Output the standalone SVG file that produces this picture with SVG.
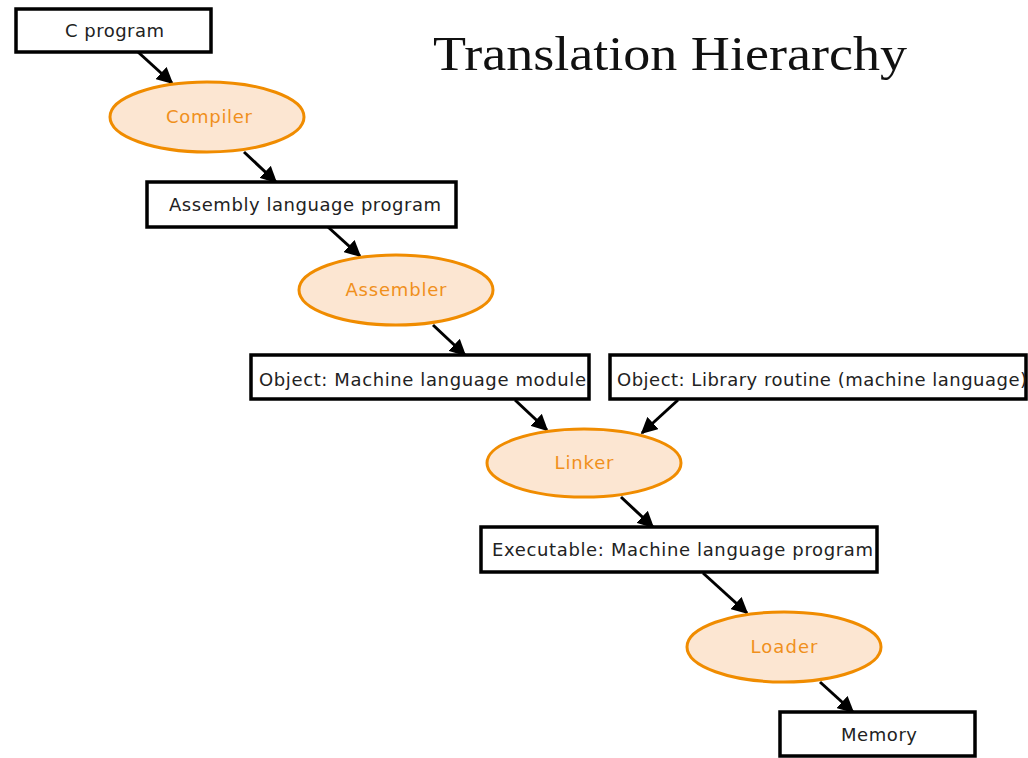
<svg xmlns="http://www.w3.org/2000/svg" width="1028" height="758" viewBox="0 0 1028 758">
<style>
.box{fill:#fff;stroke:#000;stroke-width:3.5}
.ell{fill:#fce6d2;stroke:#f08c00;stroke-width:3}
.bt{font-family:"DejaVu Sans","Liberation Sans",sans-serif;font-size:18px;fill:#222}
.et{font-family:"DejaVu Sans","Liberation Sans",sans-serif;font-size:18px;fill:#f0901c;text-anchor:middle}
.title{font-family:"Liberation Serif",serif;font-size:48px;fill:#111}
.arr{stroke:#000;stroke-width:3;fill:none;marker-end:url(#ah)}
</style>
<defs>
<marker id="ah" viewBox="0 0 10 10" refX="9" refY="5" markerWidth="5.5" markerHeight="5.5" orient="auto" markerUnits="strokeWidth">
<path d="M0,0 L10,5 L0,10 z" fill="#000"/>
</marker>
</defs>
<rect width="1028" height="758" fill="#fff"/>
<text class="title" x="433" y="70" textLength="474" lengthAdjust="spacingAndGlyphs">Translation Hierarchy</text>
<g id="connectors">
<line class="arr" x1="138" y1="52" x2="172" y2="83"/>
<line class="arr" x1="244" y1="152" x2="276" y2="182"/>
<line class="arr" x1="328" y1="227" x2="360" y2="256"/>
<line class="arr" x1="433" y1="325" x2="465" y2="355"/>
<line class="arr" x1="515" y1="400" x2="547" y2="430"/>
<line class="arr" x1="678" y1="400" x2="642" y2="433"/>
<line class="arr" x1="621" y1="497" x2="653" y2="527"/>
<line class="arr" x1="703" y1="573" x2="747" y2="613"/>
<line class="arr" x1="820" y1="682" x2="853" y2="712"/>
</g>
<g id="c-program">
<rect class="box" x="16" y="9" width="195" height="43"/>
<text class="bt" x="65" y="37" textLength="99" lengthAdjust="spacing">C program</text>
</g>
<g id="compiler">
<ellipse class="ell" cx="207" cy="117" rx="97" ry="35"/>
<text class="et" x="209" y="123" textLength="86" lengthAdjust="spacing">Compiler</text>
</g>
<g id="assembly">
<rect class="box" x="147" y="182" width="309" height="45"/>
<text class="bt" x="169" y="211" textLength="272" lengthAdjust="spacing">Assembly language program</text>
</g>
<g id="assembler">
<ellipse class="ell" cx="396" cy="290" rx="97" ry="35"/>
<text class="et" x="396" y="296" textLength="101" lengthAdjust="spacing">Assembler</text>
</g>
<g id="object-module">
<rect class="box" x="251" y="355" width="338" height="44"/>
<text class="bt" x="259" y="386" textLength="327" lengthAdjust="spacing">Object: Machine language module</text>
</g>
<g id="object-library">
<rect class="box" x="610" y="355" width="416" height="44"/>
<text class="bt" x="617" y="386" textLength="410" lengthAdjust="spacing">Object: Library routine (machine language)</text>
</g>
<g id="linker">
<ellipse class="ell" cx="584" cy="463" rx="97" ry="34"/>
<text class="et" x="584" y="469" textLength="59" lengthAdjust="spacing">Linker</text>
</g>
<g id="executable">
<rect class="box" x="481" y="527" width="396" height="45"/>
<text class="bt" x="492" y="556" textLength="381" lengthAdjust="spacing">Executable: Machine language program</text>
</g>
<g id="loader">
<ellipse class="ell" cx="784" cy="647" rx="97" ry="35"/>
<text class="et" x="784" y="653" textLength="67" lengthAdjust="spacing">Loader</text>
</g>
<g id="memory">
<rect class="box" x="780" y="712" width="195" height="44"/>
<text class="bt" x="841" y="741" textLength="76" lengthAdjust="spacing">Memory</text>
</g>
</svg>
